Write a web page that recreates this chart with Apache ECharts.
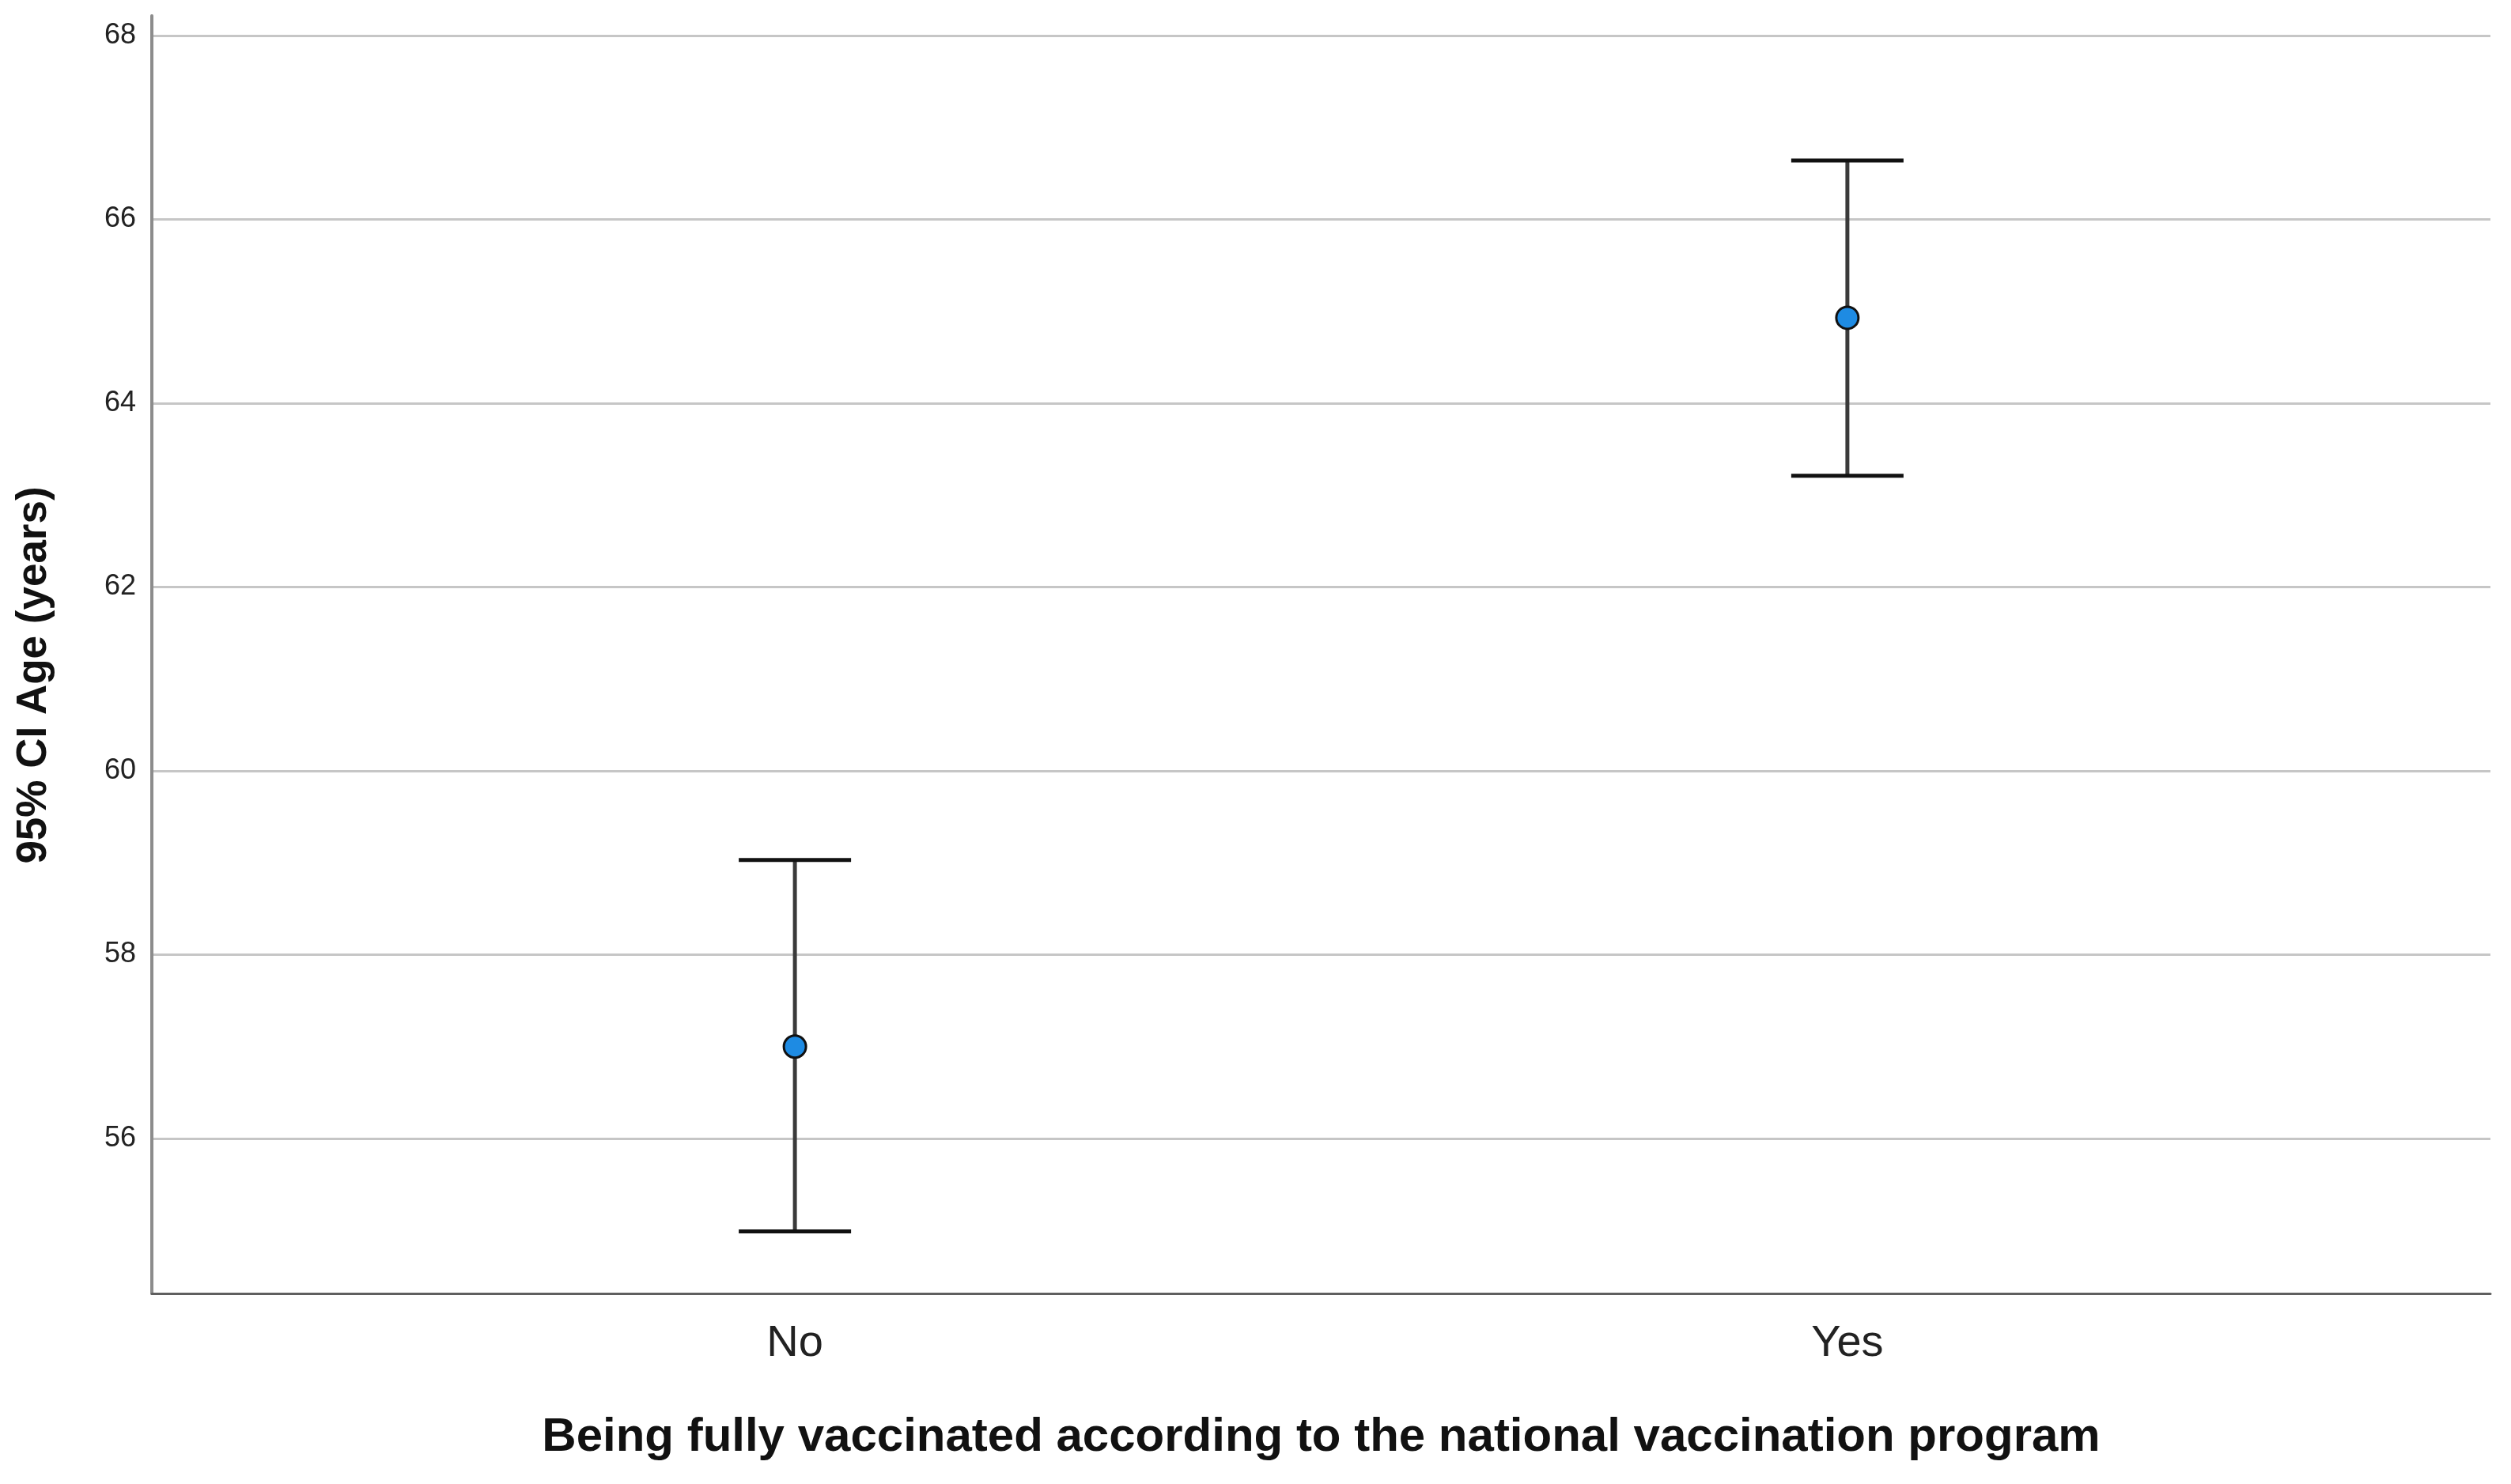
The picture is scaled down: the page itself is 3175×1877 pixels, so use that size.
<!DOCTYPE html>
<html>
<head>
<meta charset="utf-8">
<script src="https://cdn.jsdelivr.net/npm/echarts@6/dist/echarts.min.js"></script>
<style>html,body{margin:0;padding:0;background:#fff;}#c{width:3175px;height:1877px;}</style>
</head>
<body>
<div id="c"></div>
<script>
var categories = ['No', 'Yes'];
var meanAge = [57.0, 64.93];
var lowerCI = [54.99, 63.21];
var upperCI = [59.03, 66.64];
var yTicks = [56, 58, 60, 62, 64, 66, 68];

var chart = echarts.init(document.getElementById('c'), null, {renderer: 'canvas'});
var xIdx = categories.map(function (c, i) { return i; });

var option = {
  backgroundColor: '#ffffff',
  animation: false,
  grid: {left: 192, right: 26, top: 20, bottom: 241},
  xAxis: {
    type: 'value',
    min: -0.611, max: 1.611,
    name: 'Being fully vaccinated according to the national vaccination program',
    nameLocation: 'middle',
    nameGap: 152,
    nameTextStyle: {fontFamily: 'Liberation Sans, Arial', fontWeight: 'bold', fontSize: 60, color: '#111'},
    axisLine: {show: true, onZero: false, lineStyle: {color: '#5f5f5f', width: 3}},
    axisTick: {show: false, customValues: xIdx},
    splitLine: {show: false},
    axisLabel: {
      customValues: xIdx,
      formatter: function (v) { return categories[Math.round(v)] || ''; },
      fontFamily: 'Liberation Sans, Arial', fontSize: 56, color: '#222', margin: 36
    }
  },
  yAxis: {
    type: 'value',
    min: 54.314, max: 68.215,
    name: '95% CI Age (years)',
    nameLocation: 'middle',
    nameGap: 122,
    nameTextStyle: {fontFamily: 'Liberation Sans, Arial', fontWeight: 'bold', fontSize: 53, color: '#111', padding: [0, 52, 0, 0]},
    axisLine: {show: true, onZero: false, lineStyle: {color: '#8c8c8c', width: 4}},
    axisTick: {show: false, customValues: yTicks},
    axisLabel: {customValues: yTicks, fontFamily: 'Liberation Sans, Arial', fontSize: 36, color: '#222', margin: 20},
    splitLine: {show: true, lineStyle: {color: '#c6c6c6', width: 3}}
  },
  series: [
    {
      type: 'custom',
      data: xIdx.map(function (i) { return [i, lowerCI[i], upperCI[i]]; }),
      renderItem: function (params, api) {
        var x = api.value(0);
        var lo = api.coord([x, api.value(1)]);
        var hi = api.coord([x, api.value(2)]);
        var hw = 71;
        return {
          type: 'group',
          children: [
            {type: 'line', shape: {x1: lo[0], y1: lo[1], x2: hi[0], y2: hi[1]}, style: {stroke: '#3a3a3a', lineWidth: 5}},
            {type: 'line', shape: {x1: hi[0] - hw, y1: hi[1], x2: hi[0] + hw, y2: hi[1]}, style: {stroke: '#111', lineWidth: 5}},
            {type: 'line', shape: {x1: lo[0] - hw, y1: lo[1], x2: lo[0] + hw, y2: lo[1]}, style: {stroke: '#111', lineWidth: 5}}
          ]
        };
      },
      z: 3
    },
    {
      type: 'scatter',
      data: xIdx.map(function (i) { return [i, meanAge[i]]; }),
      symbol: 'circle',
      symbolSize: 28,
      itemStyle: {color: '#1E8BE3', borderColor: '#111', borderWidth: 3, opacity: 1},
      z: 5
    }
  ]
};
chart.setOption(option);
</script>
</body>
</html>
